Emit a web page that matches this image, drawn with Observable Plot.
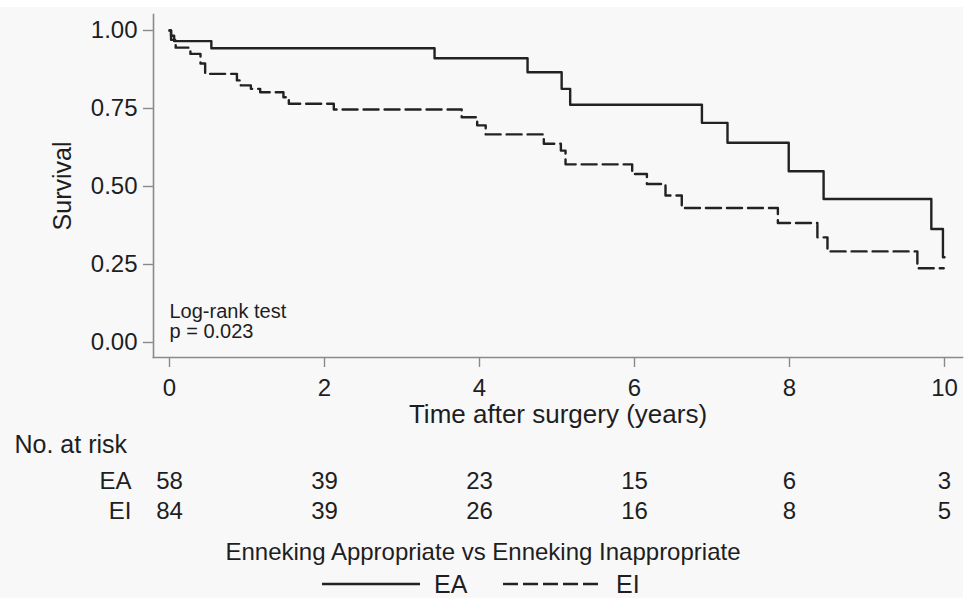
<!DOCTYPE html>
<html><head><meta charset="utf-8">
<script src="https://cdn.jsdelivr.net/npm/d3@7"></script>
<script src="https://cdn.jsdelivr.net/npm/@observablehq/plot@0.6"></script>
<style>
html,body{margin:0;padding:0;background:#fff;}
#wrap{position:relative;width:966px;height:598px;overflow:hidden;font-family:"Liberation Sans",Arial,sans-serif;color:#1e1e1e;}
#bg{position:absolute;left:0;top:7px;width:963px;height:591px;background:#f8f8f8;}
#main{position:absolute;left:0;top:7px;}
#risk{position:absolute;left:0;top:430px;}
#legtitle{position:absolute;left:0;top:540px;width:966px;text-align:center;font-size:24px;line-height:24px;}
.leg{position:absolute;font-size:25px;line-height:22px;top:573px;}
.legsw{position:absolute;top:579px;}
</style></head><body>
<div id="wrap"><div id="bg"></div><div id="main"></div><div id="risk"></div>
<div id="legtitle">Enneking Appropriate vs Enneking Inappropriate</div>
<div id="legend"></div></div>
<script>
// Kaplan-Meier step points
const eaTime = [0, 0.02, 0.06, 0.54, 3.42, 4.62, 5.06, 5.17, 6.87, 7.20, 7.99, 8.44, 9.83, 9.98, 10.0];
const eaSurv = [1.0, 0.983, 0.966, 0.943, 0.911, 0.866, 0.813, 0.762, 0.704, 0.640, 0.549, 0.460, 0.364, 0.273, 0.273];
const eiTime = [0, 0.02, 0.08, 0.27, 0.40, 0.46, 0.87, 0.92, 1.05, 1.17, 1.47, 1.54, 2.12, 3.77, 3.97, 4.08, 4.83, 5.05, 5.11, 5.97, 6.16, 6.40, 6.61, 7.85, 8.36, 8.49, 9.65, 9.99];
const eiSurv = [1.0, 0.97, 0.945, 0.925, 0.894, 0.861, 0.840, 0.824, 0.813, 0.802, 0.786, 0.765, 0.747, 0.722, 0.696, 0.667, 0.637, 0.615, 0.571, 0.540, 0.508, 0.471, 0.431, 0.383, 0.337, 0.292, 0.238, 0.238];
const xTicks = [0, 2, 4, 6, 8, 10];
const yTicks = [0, 0.25, 0.5, 0.75, 1];
const groups = ["EA", "EI"];
const riskTimes = [0, 2, 4, 6, 8, 10];
const riskEA = [58, 39, 23, 15, 6, 3];
const riskEI = [84, 39, 26, 16, 8, 5];

const ea = eaTime.map((t, i) => ({t, s: eaSurv[i]}));
const ei = eiTime.map((t, i) => ({t, s: eiSurv[i]}));
const ink = "#1e1e1e", axisGray = "#8a8a8a";
const font = '"Liberation Sans", Arial, sans-serif';

const main = Plot.plot({
  width: 966, height: 423,
  marginTop: 7, marginBottom: 73, marginLeft: 153, marginRight: 4,
  style: {background: "transparent", fontFamily: font, color: ink},
  x: {domain: [0, 10], range: [169, 944]},
  y: {domain: [0, 1], range: [335, 23]},
  marks: [
    Plot.frame({anchor: "left", stroke: axisGray, strokeWidth: 1.6}),
    Plot.frame({anchor: "bottom", stroke: axisGray, strokeWidth: 1.6}),
    Plot.axisX({ticks: xTicks, tickSize: 10, tickPadding: 11, fontSize: 24, stroke: axisGray, strokeWidth: 1.4, fill: ink, label: null}),
    Plot.axisY({ticks: yTicks, tickFormat: d3.format(".2f"), tickSize: 10, tickPadding: 6, fontSize: 24, stroke: axisGray, strokeWidth: 1.4, fill: ink, label: null}),
    Plot.line(ea, {x: "t", y: "s", curve: "step-after", stroke: "#222", strokeWidth: 2.4}),
    Plot.line(ei, {x: "t", y: "s", curve: "step-after", stroke: "#222", strokeWidth: 2.4, strokeDasharray: "15,6"}),
    Plot.text(["Time after surgery (years)"], {frameAnchor: "bottom", dy: 65, lineAnchor: "bottom", textAnchor: "middle", fontSize: 26, fill: ink}),
    Plot.text(["Survival"], {frameAnchor: "left", rotate: -90, dx: -91, lineAnchor: "middle", textAnchor: "middle", fontSize: 25, fill: ink}),
    Plot.text(["Log-rank test\np = 0.023"], {x: () => 0, frameAnchor: "bottom", dy: -20, lineAnchor: "bottom", textAnchor: "start", lineHeight: 1.0, fontSize: 20, fill: ink})
  ]
});
document.getElementById("main").append(main);

const riskRows = [
  ...riskTimes.map((t, i) => ({t, g: "EA", n: riskEA[i]})),
  ...riskTimes.map((t, i) => ({t, g: "EI", n: riskEI[i]}))
];
const risk = Plot.plot({
  width: 966, height: 105,
  marginTop: 0, marginBottom: 0, marginLeft: 153, marginRight: 4,
  style: {background: "transparent", fontFamily: font, color: ink},
  x: {domain: [0, 10], range: [169, 944], axis: null},
  y: {type: "point", domain: groups, range: [58, 88], padding: 0, axis: null},
  marks: [
    Plot.text(["No. at risk"], {frameAnchor: "top-left", dx: -139, dy: 22, lineAnchor: "bottom", textAnchor: "start", fontSize: 25, fill: ink}),
    Plot.text(groups, {y: d => d, frameAnchor: "left", dx: -22, lineAnchor: "bottom", textAnchor: "end", fontSize: 24, fill: ink}),
    Plot.text(riskRows, {x: "t", y: "g", text: d => String(d.n), lineAnchor: "bottom", textAnchor: "middle", fontSize: 24, fill: ink})
  ]
});
document.getElementById("risk").append(risk);

// legend below the chart
const leg = document.getElementById("legend");
const items = [
  {label: groups[0], dash: null, sw: 322, tx: 434},
  {label: groups[1], dash: "15,5", sw: 503, tx: 616}
];
for (const it of items) {
  const svg = d3.create("svg").attr("class", "legsw").attr("width", 98).attr("height", 10).style("left", it.sw + "px");
  svg.append("line").attr("x1", 0).attr("x2", 98).attr("y1", 5).attr("y2", 5)
    .attr("stroke", "#222").attr("stroke-width", 2.4).attr("stroke-dasharray", it.dash);
  leg.append(svg.node());
  const s = document.createElement("div");
  s.className = "leg"; s.style.left = it.tx + "px"; s.textContent = it.label;
  leg.append(s);
}
</script>
</body></html>
